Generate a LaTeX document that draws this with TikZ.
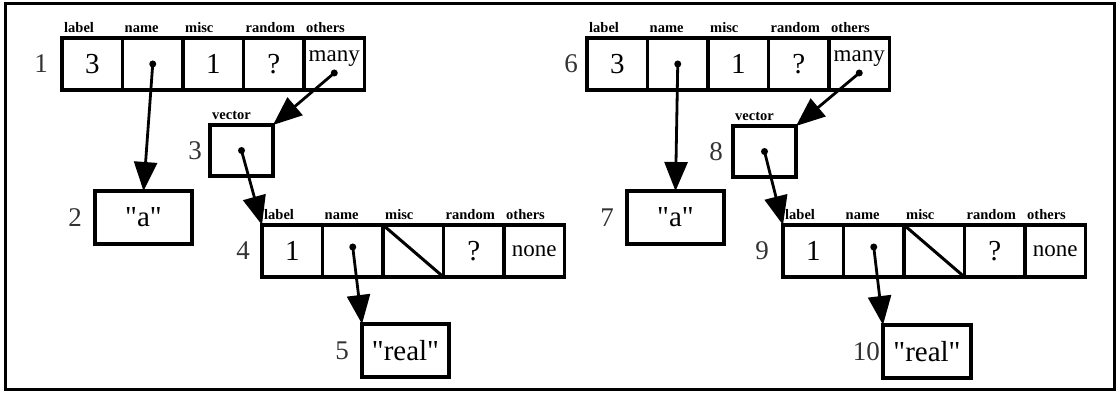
\documentclass[tikz,border=0pt]{standalone}
\usepackage{fontspec}
\setmainfont{Liberation Serif}
\usetikzlibrary{positioning,arrows.meta}

\newcommand{\valsize}{\fontsize{29}{30}\selectfont}
\newcommand{\wordsize}{\fontsize{23}{25}\selectfont}
\newcommand{\qt}[1]{\textquotedbl#1\textquotedbl}
% one record: name, x, y, five cell contents
\newcommand{\recrow}[8]{%
  \node[cell,anchor=north west] (#1-1) at (#2,#3) {#4};
  \node[cell,right=0pt of #1-1] (#1-2) {#5};
  \node[cell,right=0pt of #1-2] (#1-3) {#6};
  \node[cell,right=0pt of #1-3] (#1-4) {#7};
  \node[cell,right=0pt of #1-4] (#1-5) {#8};
  \foreach \c/\t in {1/label,2/name,3/misc,4/random,5/others}
    \node[hdr] (#1-h\c) at ([xshift=2pt,yshift=5pt]#1-\c.north west) {\t};
}

\begin{document}
\begin{tikzpicture}[x=1pt,y=-1pt,
  >={Triangle[length=29pt,width=23pt]},
  cell/.style={rectangle,draw,line width=3.2pt,minimum width=60.5pt,
    minimum height=52pt,inner sep=0pt,outer sep=0pt,font=\valsize},
  box/.style={rectangle,draw,line width=3.2pt,inner sep=0pt,outer sep=0pt,
    anchor=north west,font=\valsize},
  hdr/.style={inner sep=0pt,anchor=base west,
    font=\fontsize{14.5}{16}\selectfont\bfseries},
  idx/.style={inner sep=0pt,text=black!80,font=\fontsize{27}{28}\selectfont},
  ptr/.style={circle,fill,inner sep=0pt,minimum size=7pt},
  link/.style={->,line width=2.8pt}
]
\useasboundingbox (0,0) rectangle (1119,395);
\draw[line width=3pt] (5,4) rectangle (1114,389);

% left half
\recrow{A}{62}{38}{3}{}{1}{?}{}
\node[anchor=base,font=\wordsize] (A-m) at ([yshift=-24pt]A-5.north) {many};
\node[box,minimum width=63pt,minimum height=51pt] (V3) at (210,125) {};
\node[hdr] (V3-h) at ([xshift=2pt,yshift=5pt]V3.north west) {vector};
\node[box,minimum width=97pt,minimum height=53pt] (S2) at (95,191) {\qt{a}};
\recrow{D}{262}{225}{1}{}{}{?}{\wordsize none}
\node[box,minimum width=87pt,minimum height=53pt] (S5) at (362,324) {\qt{real}};
\node[idx,left=14pt of A-1] (n1) {1};
\node[idx,left=13pt of S2] (n2) {2};
\node[idx,left=8pt of V3] (n3) {3};
\node[idx,left=12pt of D-1] (n4) {4};
\node[idx,left=13pt of S5] (n5) {5};

% right half
\recrow{F}{587}{38}{3}{}{1}{?}{}
\node[anchor=base,font=\wordsize] (F-m) at ([yshift=-24pt]F-5.north) {many};
\node[box,minimum width=63pt,minimum height=51pt] (V8) at (733,126) {};
\node[hdr] (V8-h) at ([xshift=2pt,yshift=5pt]V8.north west) {vector};
\node[box,minimum width=97pt,minimum height=53pt] (S7) at (627,191) {\qt{a}};
\recrow{I}{783}{225}{1}{}{}{?}{\wordsize none}
\node[box,minimum width=88pt,minimum height=53pt] (S10) at (883,325) {\qt{real}};
\node[idx,left=9pt of F-1] (n6) {6};
\node[idx,left=13pt of S7] (n7) {7};
\node[idx,left=10pt of V8] (n8) {8};
\node[idx,left=14pt of I-1] (n9) {9};
\node[idx,left=3pt of S10] (n10) {10};

% pointers
\foreach \r/\v/\s/\q/\t in {A/V3/S2/D/S5, F/V8/S7/I/S10} {
  \node[ptr] (\r-p2) at (\r-2) {};
  \node[ptr] (\r-p5) at ([yshift=-9pt]\r-5.center) {};
  \node[ptr] (\v-p) at (\v) {};
  \node[ptr] (\q-p2) at ([yshift=4pt]\q-2.center) {};
  \draw[link] (\r-p2.center) -- (\s.north);
  \draw[link] (\r-p5.center) -- (\v.north east);
  \draw[link] (\v-p.center) -- (\q-1.north west);
  \draw[link] (\q-p2.center) -- (\t.north west);
  \draw[line width=3pt] (\q-3.north west) -- (\q-3.south east);
}
\end{tikzpicture}
\end{document}
